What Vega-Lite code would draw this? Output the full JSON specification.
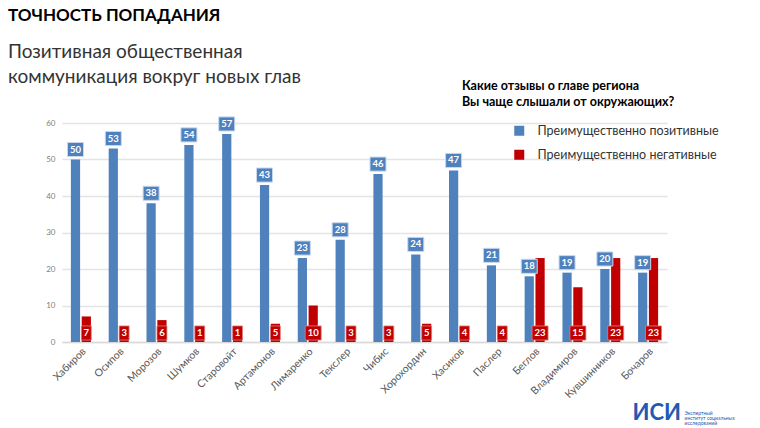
{
  "$schema": "https://vega.github.io/schema/vega-lite/v6.json",
  "width": 605,
  "height": 219,
  "autosize": {"type": "none"},
  "padding": {"left": 62, "top": 123, "right": 93, "bottom": 86},
  "background": "white",
  "config": {
    "view": {"stroke": null},
    "font": "Lato",
    "axisY": {
      "tickCount": 7,
      "domain": false,
      "ticks": false,
      "labelFontSize": 8,
      "labelColor": "#808080",
      "labelPadding": 7,
      "gridColor": "#e4e4e4",
      "gridWidth": 1.5,
      "labelOverlap": false
    }
  },
  "title": {
    "text": "ТОЧНОСТЬ ПОПАДАНИЯ",
    "subtitle": ["Позитивная общественная", "коммуникация вокруг новых глав"],
    "anchor": "start",
    "frame": "group",
    "dx": -54,
    "offset": -8,
    "font": "Lato",
    "fontSize": 17,
    "fontWeight": "bold",
    "color": "#000000",
    "subtitleFont": "Lato",
    "subtitleFontSize": 19,
    "subtitleColor": "#333333",
    "subtitleLineHeight": 25,
    "subtitlePadding": 18
  },
  "data": {
    "values": [
      {"name": "Хабиров", "type": "Преимущественно позитивные", "value": 50},
      {"name": "Осипов", "type": "Преимущественно позитивные", "value": 53},
      {"name": "Морозов", "type": "Преимущественно позитивные", "value": 38},
      {"name": "Шумков", "type": "Преимущественно позитивные", "value": 54},
      {"name": "Старовойт", "type": "Преимущественно позитивные", "value": 57},
      {"name": "Артамонов", "type": "Преимущественно позитивные", "value": 43},
      {"name": "Лимаренко", "type": "Преимущественно позитивные", "value": 23},
      {"name": "Текслер", "type": "Преимущественно позитивные", "value": 28},
      {"name": "Чибис", "type": "Преимущественно позитивные", "value": 46},
      {"name": "Хорохордин", "type": "Преимущественно позитивные", "value": 24},
      {"name": "Хасиков", "type": "Преимущественно позитивные", "value": 47},
      {"name": "Паслер", "type": "Преимущественно позитивные", "value": 21},
      {"name": "Беглов", "type": "Преимущественно позитивные", "value": 18},
      {"name": "Владимиров", "type": "Преимущественно позитивные", "value": 19},
      {"name": "Кувшинников", "type": "Преимущественно позитивные", "value": 20},
      {"name": "Бочаров", "type": "Преимущественно позитивные", "value": 19},
      {"name": "Хабиров", "type": "Преимущественно негативные", "value": 7},
      {"name": "Осипов", "type": "Преимущественно негативные", "value": 3},
      {"name": "Морозов", "type": "Преимущественно негативные", "value": 6},
      {"name": "Шумков", "type": "Преимущественно негативные", "value": 1},
      {"name": "Старовойт", "type": "Преимущественно негативные", "value": 1},
      {"name": "Артамонов", "type": "Преимущественно негативные", "value": 5},
      {"name": "Лимаренко", "type": "Преимущественно негативные", "value": 10},
      {"name": "Текслер", "type": "Преимущественно негативные", "value": 3},
      {"name": "Чибис", "type": "Преимущественно негативные", "value": 3},
      {"name": "Хорохордин", "type": "Преимущественно негативные", "value": 5},
      {"name": "Хасиков", "type": "Преимущественно негативные", "value": 4},
      {"name": "Паслер", "type": "Преимущественно негативные", "value": 4},
      {"name": "Беглов", "type": "Преимущественно негативные", "value": 23},
      {"name": "Владимиров", "type": "Преимущественно негативные", "value": 15},
      {"name": "Кувшинников", "type": "Преимущественно негативные", "value": 23},
      {"name": "Бочаров", "type": "Преимущественно негативные", "value": 23}
    ]
  },
  "encoding": {
    "x": {
      "field": "name",
      "type": "nominal",
      "sort": null,
      "scale": {"paddingInner": 0.47, "paddingOuter": 0.235},
      "axis": {
        "title": "ИСИ",
        "titleX": 570,
        "titleY": 70,
        "titleAlign": "left",
        "titleBaseline": "middle",
        "titleFontSize": 22,
        "titleFontWeight": "bold",
        "titleColor": "#2459b3",
        "titleFont": "Lato",
        "labelAngle": -45,
        "labelFontSize": 10.5,
        "labelColor": "#595959",
        "labelPadding": 4,
        "ticks": false,
        "domain": true,
        "domainColor": "#d9d9d9",
        "domainWidth": 1.5
      }
    },
    "xOffset": {
      "field": "type",
      "type": "nominal",
      "sort": ["Преимущественно позитивные", "Преимущественно негативные"],
      "scale": {"paddingInner": 0.15}
    }
  },
  "layer": [
    {
      "mark": {"type": "bar"},
      "encoding": {
        "y": {
          "field": "value",
          "type": "quantitative",
          "scale": {"domain": [0, 60], "nice": false},
          "axis": {
            "title": ["Экспертный", "институт социальных", "исследований"],
            "titleX": 622,
            "titleY": 289,
            "titleAngle": 0,
            "titleAlign": "left",
            "titleBaseline": "middle",
            "titleFontSize": 5,
            "titleFontWeight": "normal",
            "titleColor": "#2459b3",
            "titleLineHeight": 5
          }
        },
        "color": {
          "field": "type",
          "type": "nominal",
          "scale": {
            "domain": ["Преимущественно позитивные", "Преимущественно негативные"],
            "range": ["#4f81bd", "#c00000"]
          },
          "legend": {
            "orient": "none",
            "legendX": 400,
            "legendY": -43,
            "title": ["Какие отзывы о главе региона", "Вы чаще слышали от окружающих?"],
            "titleFont": "Lato",
            "titleFontSize": 12.5,
            "titleFontWeight": "bold",
            "titleColor": "#000000",
            "titleLineHeight": 16,
            "titlePadding": 16,
            "titleLimit": 400,
            "symbolType": "square",
            "symbolSize": 100,
            "symbolOffset": 51,
            "symbolStrokeWidth": 0,
            "labelFont": "Lato",
            "labelFontSize": 12.5,
            "labelColor": "#333333",
            "labelOffset": 12,
            "labelLimit": 300,
            "rowPadding": 11
          }
        }
      }
    },
    {
      "transform": [{"filter": "datum.type === 'Преимущественно позитивные'"}],
      "mark": {
        "type": "point",
        "shape": "M-1,-0.88L1,-0.88L1,0.88L-1,0.88Z",
        "size": 256,
        "filled": true,
        "fill": "#4f81bd",
        "stroke": "#c9d8ee",
        "strokeWidth": 1,
        "opacity": 1,
        "yOffset": -10
      },
      "encoding": {
        "y": {"field": "value", "type": "quantitative"}
      }
    },
    {
      "transform": [{"filter": "datum.type === 'Преимущественно позитивные'"}],
      "mark": {
        "type": "text",
        "color": "white",
        "fontWeight": "bold",
        "fontSize": 9.5,
        "baseline": "middle",
        "yOffset": -10
      },
      "encoding": {
        "y": {"field": "value", "type": "quantitative"},
        "text": {"field": "value", "type": "quantitative"}
      }
    },
    {
      "transform": [{"filter": "datum.type === 'Преимущественно негативные'"}],
      "mark": {
        "type": "point",
        "size": 256,
        "filled": true,
        "fill": "#c00000",
        "stroke": "#e08080",
        "strokeWidth": 0.8,
        "opacity": 1,
        "yOffset": -9
      },
      "encoding": {
        "y": {"datum": 0, "type": "quantitative"},
        "shape": {
          "condition": {"test": "datum.value >= 10", "value": "M-1,-0.88L1,-0.88L1,0.88L-1,0.88Z"},
          "value": "M-0.62,-0.88L0.62,-0.88L0.62,0.88L-0.62,0.88Z"
        }
      }
    },
    {
      "transform": [{"filter": "datum.type === 'Преимущественно негативные'"}],
      "mark": {
        "type": "text",
        "color": "white",
        "fontWeight": "bold",
        "fontSize": 9.5,
        "baseline": "middle",
        "yOffset": -9
      },
      "encoding": {
        "y": {"datum": 0, "type": "quantitative"},
        "text": {"field": "value", "type": "quantitative"}
      }
    }
  ]
}
